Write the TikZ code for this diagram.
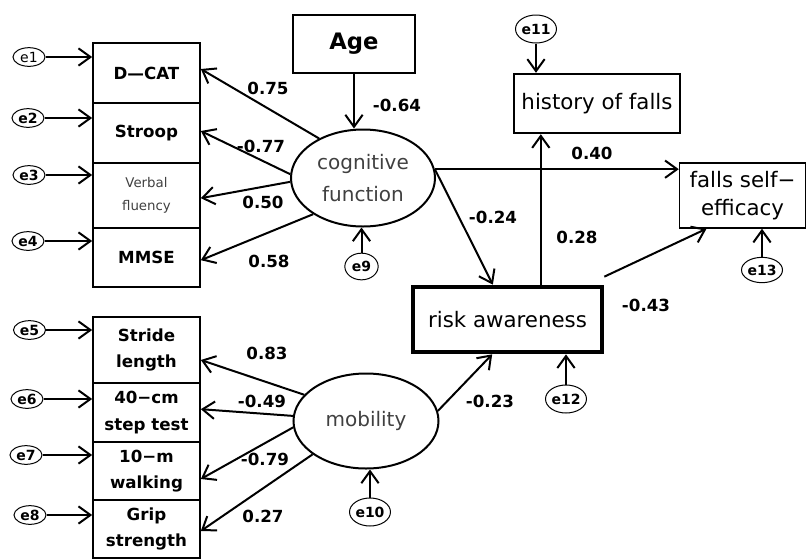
\documentclass[tikz,border=0pt]{standalone}
\usepackage{fontspec}
\setmainfont{DejaVu Sans}
\usetikzlibrary{shapes.geometric,arrows.meta}

\begin{document}
\begin{tikzpicture}[x=0.75pt,y=0.75pt,yscale=-1,
	obsbox/.style={draw, line width=1.5pt, inner sep=0pt, align=center, minimum width=80pt, font=\bfseries\fontsize{12.5}{20}\selectfont},
	latent/.style={draw, ellipse, line width=1.5pt, inner sep=0pt, align=center, text=black!75, font=\fontsize{15}{24}\selectfont},
	errnode/.style={draw, ellipse, line width=0.75pt, inner sep=0pt, minimum width=24pt, minimum height=14pt, font=\bfseries\fontsize{10.5}{11}\selectfont},
	bigerr/.style={errnode, minimum width=27pt, minimum height=21pt},
	coef/.style={inner sep=0.75pt, font=\bfseries\fontsize{12.5}{14}\selectfont},
	arr/.style={line width=1.5pt, -{Straight Barb[length=9pt,width=13pt]}}]
	\useasboundingbox (0,0) rectangle (808,558);
	
	%Shape: Rectangle
	\node [obsbox, minimum height=45pt] (dcat) at (146.5,73) {D—CAT};
	\node [obsbox, minimum height=45pt] (stroop) at (146.5,133) {Stroop};
	\node [obsbox, minimum height=48.75pt, font=\fontsize{10}{17}\selectfont, text=black!75] (verbal) at (146.5,195.5) {Verbal\\fluency};
	\node [obsbox, minimum height=44.25pt] (mmse) at (146.5,257.5) {MMSE};
	\node [obsbox, minimum height=49.5pt] (stride) at (146.5,350) {Stride\\length};
	\node [obsbox, minimum height=44.25pt] (steptest) at (146.5,412.5) {40−cm\\step test};
	\node [obsbox, minimum height=43.5pt] (walk) at (146.5,471) {10−m\\walking};
	\node [obsbox, minimum height=43.5pt] (grip) at (146.5,529) {Grip\\strength};
	\node [obsbox, minimum width=91.5pt, minimum height=43.5pt, font=\bfseries\fontsize{17}{20}\selectfont] (age) at (354,44) {Age};
	\node [obsbox, line width=1.8pt, minimum width=124.5pt, minimum height=44.25pt, font=\fontsize{16}{21}\selectfont] (hist) at (597,103.5) {history of falls};
	\node [obsbox, line width=1.1pt, minimum width=94.5pt, minimum height=48.75pt, font=\fontsize{16}{21}\selectfont] (falls) at (742.5,195.5) {falls self−\\efficacy};
	\node [obsbox, line width=3.5pt, minimum width=141.75pt, minimum height=48.75pt, font=\fontsize{16}{21}\selectfont] (risk) at (507.5,319.5) {risk awareness};
	
	%Shape: Ellipse
	\node [latent, minimum width=108pt, minimum height=72.75pt] (cog) at (363,178) {cognitive\\function};
	\node [latent, minimum width=108.75pt, minimum height=71.25pt] (mob) at (366,421) {mobility};
	
	%Shape: Ellipse (errors)
	\node [errnode, font=\fontsize{10.5}{11}\selectfont] (e1) at (29,57) {e1};
	\node [errnode] (e2) at (28,118) {e2};
	\node [errnode] (e3) at (29,175) {e3};
	\node [errnode] (e4) at (28,241) {e4};
	\node [errnode] (e5) at (29.5,330) {e5};
	\node [errnode] (e6) at (27,399) {e6};
	\node [errnode] (e7) at (26,455) {e7};
	\node [errnode] (e8) at (30,515) {e8};
	\node [errnode, minimum width=25pt, minimum height=20pt] (e9) at (361.5,266.5) {e9};
	\node [bigerr] (e10) at (370,512) {e10};
	\node [bigerr] (e11) at (536,29) {e11};
	\node [bigerr] (e12) at (566,399) {e12};
	\node [bigerr, minimum height=19pt] (e13) at (762,270) {e13};
	
	%Straight Lines
	\draw [arr] (e1) -- (e1 -| dcat.west);
	\draw [arr] (e2) -- (e2 -| stroop.west);
	\draw [arr] (e3) -- (e3 -| verbal.west);
	\draw [arr] (e4) -- (e4 -| mmse.west);
	\draw [arr] (e5) -- (e5 -| stride.west);
	\draw [arr] (e6) -- (e6 -| steptest.west);
	\draw [arr] (e7) -- (e7 -| walk.west);
	\draw [arr] (e8) -- (e8 -| grip.west);
	\draw [arr] (e9) -- (e9 |- cog.south);
	\draw [arr] (e10) -- (e10 |- mob.south);
	\draw [arr] (e11) -- (e11 |- hist.north);
	\draw [arr] (e12) -- (e12 |- risk.south);
	\draw [arr] (e13) -- (e13 |- falls.south);
	
	%Straight Lines
	\draw [arr] (cog.138) -- ([yshift=-3pt]dcat.east);
	\draw [arr] (cog.177) -- ([yshift=-1.5pt]stroop.east);
	\draw [arr] (cog.183) -- ([yshift=2pt]verbal.east);
	\draw [arr] (cog.216) -- ([yshift=2pt]mmse.east);
	\draw [arr] (mob.157) -- ([yshift=7.5pt]stride.east);
	\draw [arr] (mob.176) -- ([yshift=-2.5pt]steptest.east);
	\draw [arr] (mob.185) -- ([yshift=6pt]walk.east);
	\draw [arr] (mob.212) -- ([yshift=1.5pt]grip.east);
	\draw [arr] (age) -- (age |- cog.north);
	\draw [arr] (cog.7) -- (cog.7 -| falls.west);
	\draw [arr] (cog.7) -- ([xshift=-11pt]risk.north);
	\draw [arr] (mob.8) -- ([xshift=-11.5pt]risk.south);
	\draw [arr] ([xshift=25pt]risk.north) -- ([xshift=25pt]risk.north |- hist.south);
	\draw [arr] ([yshift=-6pt]risk.north east) -- ([xshift=-27pt]falls.south);
	
	% Text Node
	\node [coef] (cDcat) at (268,88) {0.75};
	\node [coef] (cAge) at (397,105) {-0.64};
	\node [coef] (cStroop) at (261,146) {-0.77};
	\node [coef] (cVerbal) at (263,202) {0.50};
	\node [coef] (cMmse) at (269,261) {0.58};
	\node [coef] (cStride) at (267,353) {0.83};
	\node [coef] (cStep) at (262,401) {-0.49};
	\node [coef] (cWalk) at (265,459) {-0.79};
	\node [coef] (cGrip) at (263,516) {0.27};
	\node [coef] (cFallsCog) at (592,153) {0.40};
	\node [coef] (cRiskCog) at (493,217) {-0.24};
	\node [coef] (cHist) at (577,237) {0.28};
	\node [coef] (cFallsRisk) at (646,305) {-0.43};
	\node [coef] (cRiskMob) at (490,401) {-0.23};
	
\end{tikzpicture}
\end{document}
